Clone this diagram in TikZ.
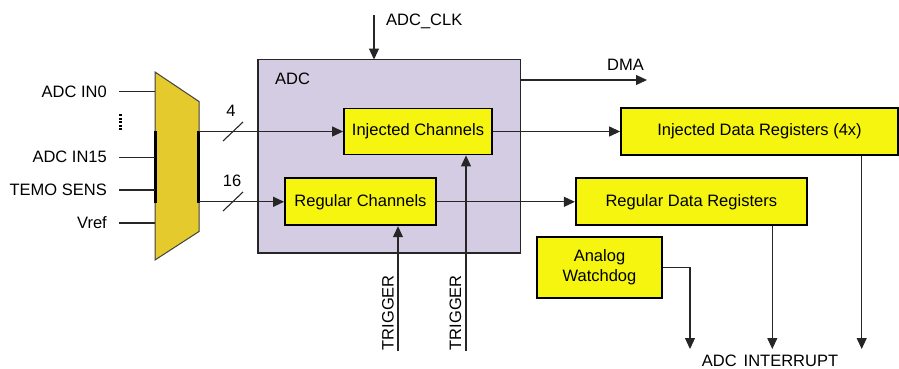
\documentclass[tikz,border=0pt]{standalone}
\usepackage{fontspec}
\setmainfont{Liberation Sans}
\usetikzlibrary{arrows.meta}
\definecolor{adcfill}{HTML}{D3CCE2}
\definecolor{boxyellow}{HTML}{F5F510}
\definecolor{muxfill}{HTML}{E4CA2C}
\tikzset{
  lbl/.style={font=\fontsize{16.5}{19}\selectfont, inner sep=0pt},
  ybox/.style={draw=black, line width=1.8pt, fill=boxyellow, font=\fontsize{16.5}{19}\selectfont, inner sep=0pt},
  wire/.style={line width=1.1pt, draw=black!85},
  arr/.style={wire, -{Triangle[length=11pt,width=10pt]}},
}
\begin{document}
\begin{tikzpicture}[x=1pt,y=-1pt]
\useasboundingbox (0,0) rectangle (899,368);
% ADC big box
\draw[fill=adcfill, draw=black!85, line width=1.2pt] (258,59.5) rectangle (520.5,253);
\node[lbl, anchor=west] (adclbl) at (275,79) {ADC};
% mux
\draw[fill=muxfill, draw=black!75, line width=1pt] (155,72) -- (199,101.5) -- (199,231.5) -- (155,260) -- cycle;
\draw[line width=2.2pt] (155.5,131) -- (155.5,203);
\draw[line width=2.2pt] (198.5,131) -- (198.5,203);
\coordinate (mi0) at (155,91.7);
\coordinate (mi15) at (155,157.3);
\coordinate (mit) at (155,190);
\coordinate (miv) at (155,223);
\coordinate (mo4) at (199,131.5);
\coordinate (mo16) at (199,201.8);
% input labels and wires
\node[lbl, anchor=east] (in0) at (107,91.7) {ADC IN0};
\node[lbl, anchor=east] (in15) at (107,157.3) {ADC IN15};
\node[lbl, anchor=east] (tsens) at (107,190) {TEMO SENS};
\node[lbl, anchor=east] (vref) at (107,223) {Vref};
\coordinate (w0) at (119,91.7);
\coordinate (w15) at (119,157.3);
\coordinate (wt) at (119,190);
\coordinate (wv) at (119,223);
\draw[wire] (w0) -- (mi0);
\draw[wire] (w15) -- (mi15);
\draw[wire] (wt) -- (mit);
\draw[wire] (wv) -- (miv);
\draw[line width=2.6pt, dash pattern=on 2pt off 1.6pt] (120.5,114) -- (120.5,131);
% inner boxes
\node[ybox, minimum width=148pt, minimum height=46pt] (inj) at (418,131.5) {Injected Channels};
\node[ybox, minimum width=151pt, minimum height=47pt] (reg) at (360.5,201.8) {Regular Channels};
\node[ybox, minimum width=277pt, minimum height=47pt] (injreg) at (759.5,131.5) {Injected Data Registers (4x)};
\node[ybox, minimum width=231pt, minimum height=47pt] (regreg) at (691.3,201.8) {Regular Data Registers};
\node[ybox, minimum width=125.5pt, minimum height=61.5pt, align=center, font=\fontsize{16.5}{20}\selectfont] (wdog) at (599.5,267.4) {Analog\\Watchdog};
% mux outputs
\draw[arr] (mo4) -- (inj.west |- mo4);
\draw[arr] (mo16) -- (reg.west |- mo16);
\draw[wire] (223,141) -- (243,122);
\draw[wire] (223,211) -- (243,192);
\node[lbl] (n4) at (231,111) {4};
\node[lbl] (n16) at (232,181) {16};
% clock
\coordinate (clk) at (374,15);
\draw[arr] (clk) -- (374,59.5);
\node[lbl, anchor=west] (clklbl) at (386,21) {ADC\_CLK};
% DMA
\coordinate (dmaend) at (647,80);
\draw[arr] (520.5,80) -- (dmaend);
\node[lbl] (dma) at (625.5,65) {DMA};
% channels to registers
\draw[arr] (inj.east) -- (injreg.west);
\draw[arr] (reg.east) -- (regreg.west);
% triggers
\coordinate (t1) at (398,350.5);
\coordinate (t2) at (466,350.5);
\draw[arr] (t1) -- (reg.south -| t1);
\draw[arr] (t2) -- (inj.south -| t2);
\node[lbl, rotate=90, anchor=west] (trig1) at (388,350.5) {TRIGGER};
\node[lbl, rotate=90, anchor=west] (trig2) at (455.5,350.5) {TRIGGER};
% interrupts
\coordinate (wdc) at (690,267.7);
\coordinate (i1) at (690,349);
\coordinate (i2) at (772.3,349);
\coordinate (i3) at (861.7,349);
\draw[arr] (wdog.east |- wdc) -- (wdc) -- (i1);
\draw[arr] (regreg.south -| i2) -- (i2);
\draw[arr] (injreg.south -| i3) -- (i3);
\node[lbl, anchor=base] (intr) at (770,366) {ADC\hspace{7pt}INTERRUPT};
\end{tikzpicture}
\end{document}
